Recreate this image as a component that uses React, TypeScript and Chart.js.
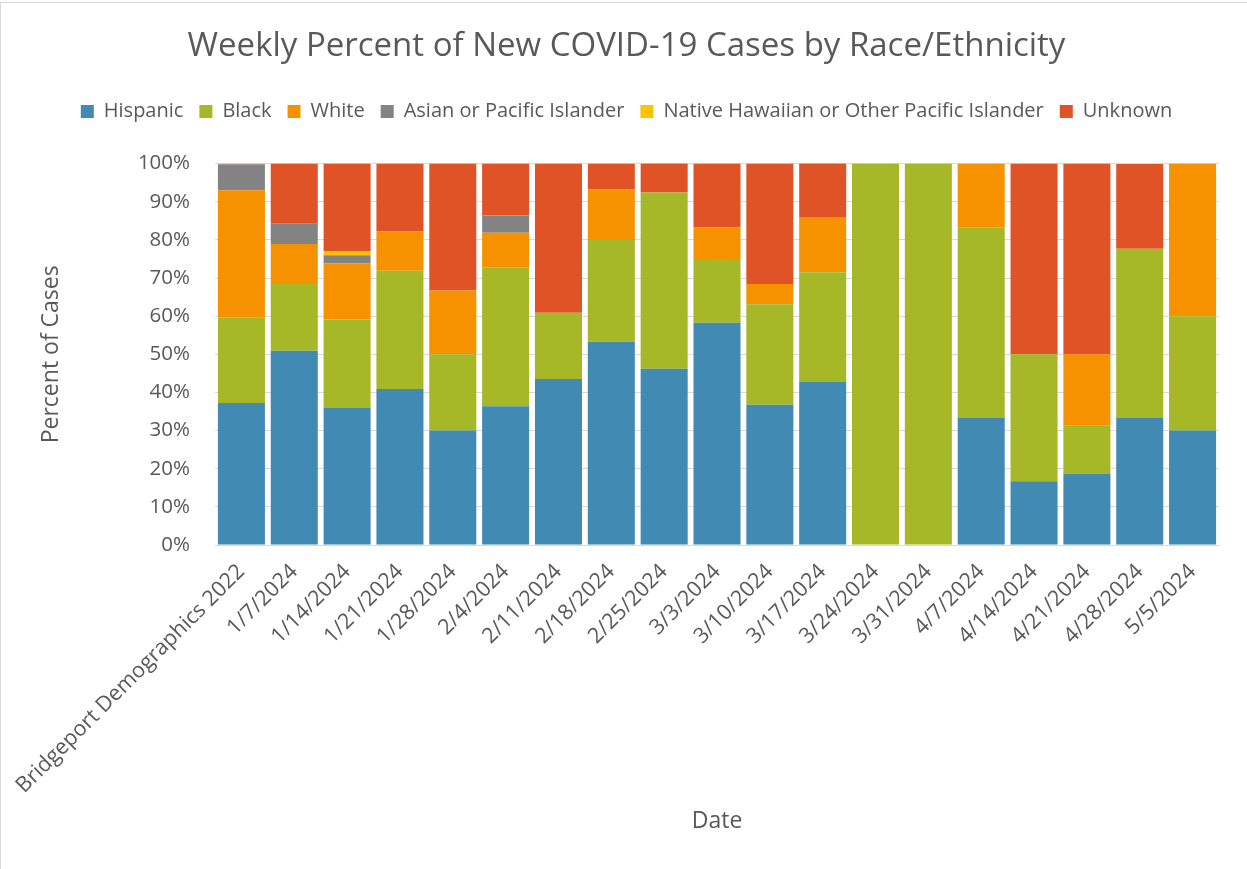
import React, { useEffect, useRef } from "react";
import { Chart, registerables } from "chart.js";

Chart.register(...registerables);

const categories = [
  "Bridgeport Demographics 2022",
  "1/7/2024",
  "1/14/2024",
  "1/21/2024",
  "1/28/2024",
  "2/4/2024",
  "2/11/2024",
  "2/18/2024",
  "2/25/2024",
  "3/3/2024",
  "3/10/2024",
  "3/17/2024",
  "3/24/2024",
  "3/31/2024",
  "4/7/2024",
  "4/14/2024",
  "4/21/2024",
  "4/28/2024",
  "5/5/2024",
];

const hispanic = [37.2, 50.9, 35.9, 40.9, 30, 36.4, 43.5, 53.3, 46.2, 58.3, 36.8, 42.9, 0, 0, 33.3, 16.7, 18.75, 33.3, 30];
const black = [22.4, 17.5, 23.2, 31.0, 20, 36.4, 17.4, 26.7, 46.2, 16.7, 26.3, 28.6, 100, 100, 50, 33.3, 12.5, 44.4, 30];
const white = [33.4, 10.5, 14.8, 10.3, 16.7, 9.1, 0, 13.3, 0, 8.3, 5.3, 14.3, 0, 0, 16.7, 0, 18.75, 0, 40];
const asian = [6.8, 5.3, 2.1, 0, 0, 4.5, 0, 0, 0, 0, 0, 0, 0, 0, 0, 0, 0, 0, 0];
const nativeHawaiian = [0.2, 0, 1.1, 0, 0, 0, 0, 0, 0, 0, 0, 0, 0, 0, 0, 0, 0, 0, 0];
const unknown = [0, 15.8, 22.9, 17.8, 33.3, 13.6, 39.1, 6.7, 7.7, 16.7, 31.6, 14.3, 0, 0, 0, 50, 50, 22.2, 0];

const yTicks = [0, 10, 20, 30, 40, 50, 60, 70, 80, 90, 100];

const seriesNames = [
  "Hispanic",
  "Black",
  "White",
  "Asian or Pacific Islander",
  "Native Hawaiian or Other Pacific Islander",
  "Unknown",
];
const seriesColors = ["#418AB3", "#A6B727", "#F69200", "#838383", "#FEC306", "#DF5327"];

const FONT = "'Open Sans', 'Noto Sans', sans-serif";
const TEXT = "#595959";
const GRID = "#D9D9D9";

export default function App() {
  const ref = useRef<HTMLCanvasElement | null>(null);

  useEffect(() => {
    if (!ref.current) return;
    const series = [hispanic, black, white, asian, nativeHawaiian, unknown];
    const chart = new Chart(ref.current, {
      type: "bar",
      data: {
        labels: categories,
        datasets: series.map((d, i) => ({
          label: seriesNames[i],
          data: d,
          backgroundColor: seriesColors[i],
          borderWidth: 0,
          categoryPercentage: 1,
          barPercentage: 0.89,
        })),
      },
      options: {
        responsive: false,
        animation: false,
        layout: { padding: { top: 0, left: 34, right: 28, bottom: 30 } },
        plugins: {
          title: {
            display: true,
            text: "Weekly Percent of New COVID-19 Cases by Race/Ethnicity",
            color: TEXT,
            font: { family: FONT, size: 33, weight: "normal" },
            padding: { top: 27, bottom: 19 },
          },
          legend: {
            display: true,
            position: "top",
            labels: {
              color: TEXT,
              font: { family: FONT, size: 20 },
              boxWidth: 13,
              boxHeight: 13,
              padding: 16,
            },
          },
          subtitle: {
            display: true,
            text: "",
            position: "top",
            weight: 500,
            font: { size: 1, lineHeight: 1 },
            padding: { top: 0, bottom: 31 },
          },
          tooltip: { enabled: false },
        },
        scales: {
          x: {
            stacked: true,
            grid: { display: false, drawTicks: false },
            border: { display: true, color: GRID, width: 1 },
            ticks: {
              color: TEXT,
              font: { family: FONT, size: 21.5 },
              minRotation: 45,
              maxRotation: 45,
              autoSkip: false,
              padding: 14,
            },
            title: {
              display: true,
              text: "Date",
              color: TEXT,
              font: { family: FONT, size: 23 },
            },
            afterFit: (scale: any) => {
              scale.height = 294;
            },
          },
          y: {
            stacked: true,
            min: 0,
            max: 100,
            afterBuildTicks: (scale: any) => {
              scale.ticks = yTicks.map((v) => ({ value: v }));
            },
            grid: { color: GRID, lineWidth: 1, drawTicks: false },
            border: { display: false },
            ticks: {
              color: TEXT,
              font: { family: FONT, size: 20.5 },
              padding: 25,
              callback: (v: any) => v + "%",
            },
            title: {
              display: true,
              text: "Percent of Cases",
              color: TEXT,
              font: { family: FONT, size: 23 },
            },
            afterFit: (scale: any) => {
              scale.width = 181;
            },
          },
        },
      },
    });
    return () => chart.destroy();
  }, []);

  return (
    <div
      style={{
        position: "fixed",
        left: 0,
        top: 0,
        width: 1247,
        height: 869,
        background: "#fff",
        overflow: "hidden",
      }}
    >
      <div
        style={{
          position: "absolute",
          left: 0,
          top: 2,
          width: 1300,
          height: 900,
          borderTop: "1px solid #D9D9D9",
          borderLeft: "1px solid #D9D9D9",
          boxSizing: "border-box",
        }}
      />
      <canvas
        ref={ref}
        width={1247}
        height={869}
        style={{ position: "absolute", left: 0, top: 0, width: 1247, height: 869 }}
      />
    </div>
  );
}
